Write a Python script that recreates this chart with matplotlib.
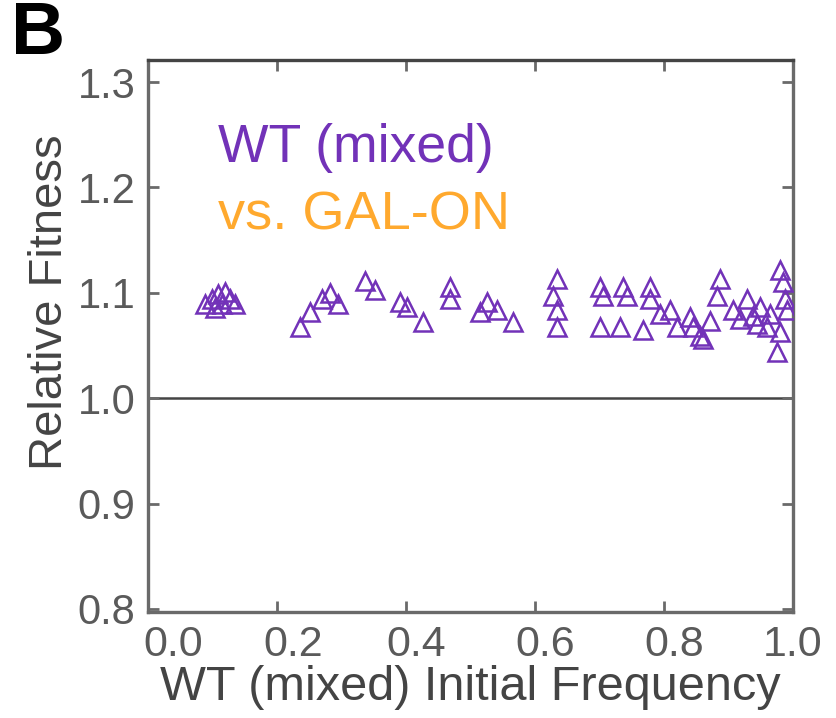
import matplotlib
matplotlib.use("Agg")
import matplotlib.pyplot as plt
from matplotlib.transforms import ScaledTranslation

plt.rcParams['font.family'] = ['Liberation Sans', 'DejaVu Sans']

# WT (mixed) vs. GAL-ON competition: initial frequency and relative fitness
init_freq = [
    0.088, 0.099, 0.108, 0.119, 0.127, 0.115, 0.135, 0.104,
    0.236, 0.251, 0.270, 0.282, 0.295,
    0.336, 0.352, 0.391, 0.402, 0.426,
    0.468, 0.468, 0.515, 0.526, 0.541, 0.566,
    0.628, 0.634, 0.634, 0.634,
    0.701, 0.705, 0.701, 0.736, 0.743, 0.732,
    0.778, 0.778, 0.767, 0.794, 0.809, 0.820, 0.840, 0.845, 0.856, 0.860,
    0.871, 0.887, 0.882, 0.907, 0.918, 0.929, 0.938, 0.944, 0.949, 0.960,
    0.964, 0.980, 0.984, 0.988, 0.991, 0.980, 0.975,
]
rel_fitness = [
    1.089, 1.094, 1.099, 1.101, 1.094, 1.089, 1.089, 1.086,
    1.068, 1.082, 1.094, 1.100, 1.089,
    1.111, 1.103, 1.091, 1.087, 1.072,
    1.106, 1.094, 1.082, 1.091, 1.084, 1.072,
    1.097, 1.113, 1.084, 1.068,
    1.106, 1.097, 1.068, 1.106, 1.097, 1.068,
    1.106, 1.094, 1.065, 1.080, 1.084, 1.068, 1.077, 1.068, 1.059, 1.056,
    1.073, 1.113, 1.097, 1.084, 1.075, 1.094, 1.078, 1.070, 1.087, 1.068,
    1.080, 1.122, 1.110, 1.094, 1.084, 1.063, 1.044,
]

x_ticks = [0.0, 0.2, 0.4, 0.6, 0.8, 1.0]
y_ticks = [0.8, 0.9, 1.0, 1.1, 1.2, 1.3]

purple = '#7232B8'
orange = '#FFA92E'
spine_gray = '#6a6a6a'

fig = plt.figure(figsize=(8.36, 7.18), dpi=100)
ax = fig.add_axes([0.177, 0.1476, 0.7716, 0.7688])

ax.axhline(1.0, color='#444444', lw=1.8, zorder=1)
ax.plot(init_freq, rel_fitness, linestyle='none', marker='^',
        markersize=13, markerfacecolor='none', markeredgecolor=purple,
        markeredgewidth=1.8, zorder=3)

ax.set_xlim(0.0, 1.0)
ax.set_ylim(0.797, 1.321)
ax.set_xticks(x_ticks)
ax.set_yticks(y_ticks)
ax.set_xticklabels([f'{v:.1f}' for v in x_ticks])
ax.set_yticklabels([f'{v:.1f}' for v in y_ticks])

for side, sp in ax.spines.items():
    sp.set_color(spine_gray)
    sp.set_linewidth(2.4)
ax.spines['top'].set_color('#444444')

ax.tick_params(axis='both', which='major', direction='in', length=8,
               width=2.0, color=spine_gray, labelsize=30,
               labelcolor='#5a5a5a', top=True, right=True, pad=9)
ax.tick_params(axis='x', labelsize=31)

# x tick labels sit slightly right of their ticks, except the last one
x_label_shift_px = [25, 16, 10, 10, 10, 0]
for lab, dx in zip(ax.get_xticklabels(), x_label_shift_px):
    lab.set_transform(lab.get_transform() +
                      ScaledTranslation(dx / 100, 0, fig.dpi_scale_trans))

ax.set_xlabel('WT (mixed) Initial Frequency', fontsize=35, color='#444444', labelpad=0)
ax.set_ylabel('Relative Fitness', fontsize=34, color='#444444', labelpad=4)
ax.yaxis.set_label_coords(-0.118, 0.562)

ax.text(0.109, 0.841, 'WT (mixed)', transform=ax.transAxes, fontsize=38.5,
        color=purple, ha='left', va='center')
ax.text(0.109, 0.719, 'vs. GAL-ON', transform=ax.transAxes, fontsize=39,
        color=orange, ha='left', va='center')

fig.text(0.013, 0.952, 'B', fontsize=54, fontweight='bold', color='black',
         ha='left', va='center')

fig.savefig('out.png', dpi=100, facecolor='white')
